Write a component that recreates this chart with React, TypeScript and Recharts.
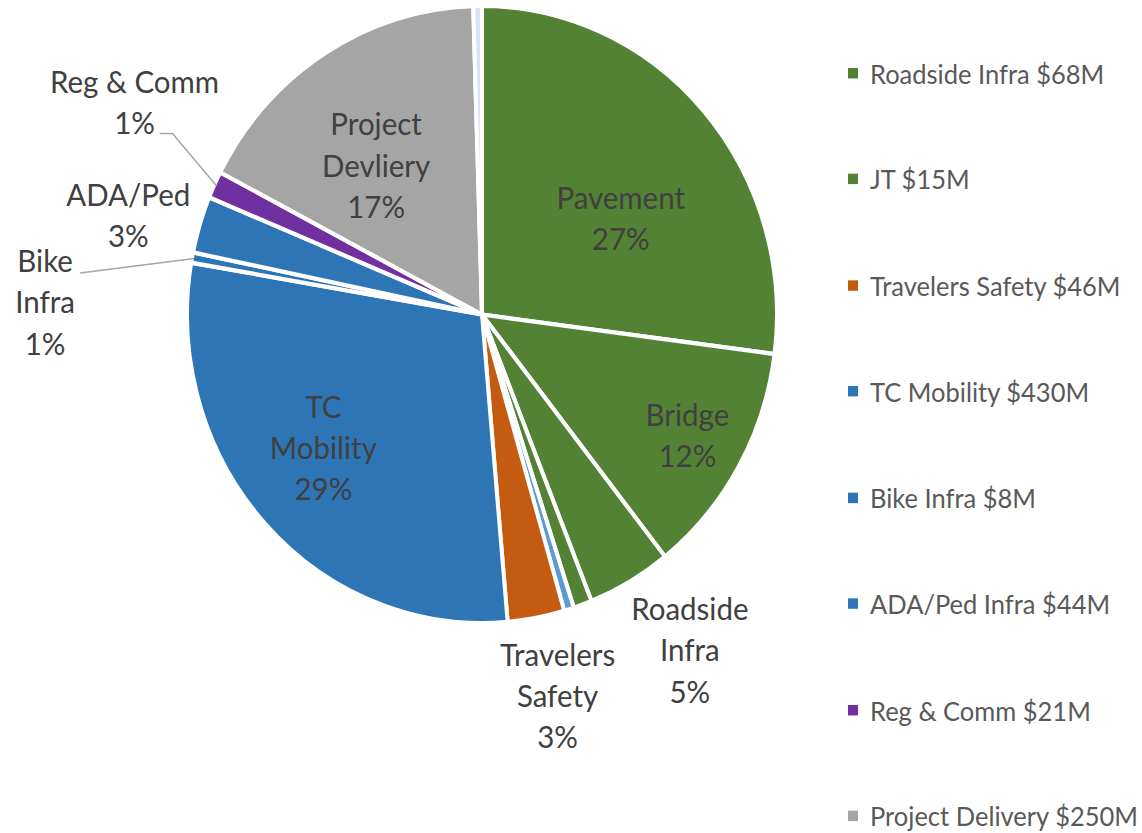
import React from "react";
import { PieChart, Pie, Cell, Legend } from "recharts";

// ---- data ----
const categories = [
  "Pavement",
  "Bridge",
  "Roadside Infra",
  "JT",
  "Unlabeled A",
  "Travelers Safety",
  "TC Mobility",
  "Bike Infra",
  "ADA/Ped Infra",
  "Reg & Comm",
  "Project Delivery",
  "Unlabeled B",
];
const valuesM = [400, 182, 68, 15, 8, 46, 430, 8, 44, 21, 250, 7];
const sliceLabels = [
  "Pavement",
  "Bridge",
  "Roadside\nInfra",
  "",
  "",
  "Travelers\nSafety",
  "TC\nMobility",
  "Bike\nInfra",
  "ADA/Ped",
  "Reg & Comm",
  "Project\nDevliery",
  "",
];
const legendNames = [
  "",
  "",
  "Roadside Infra",
  "JT",
  "",
  "Travelers Safety",
  "TC Mobility",
  "Bike Infra",
  "ADA/Ped Infra",
  "Reg & Comm",
  "Project Delivery",
  "",
];

// ---- styles ----
const sliceColors = [
  "#548235",
  "#548235",
  "#548235",
  "#548235",
  "#5B9BD5",
  "#C55A11",
  "#2E75B6",
  "#2E75B6",
  "#2E75B6",
  "#7030A0",
  "#A5A5A5",
  "#DAE3F3",
];

type Leader = { sx: number; sy: number; elbow: number };
type Placement = { r: number; shift: number; leader?: Leader } | null;
const labelPlacement: Placement[] = [
  { r: 166, shift: 8 },
  { r: 236, shift: 0 },
  { r: 383, shift: -2.8 },
  null,
  null,
  { r: 373, shift: -1.1 },
  { r: 204, shift: 3.7 },
  { r: 437, shift: -9.2, leader: { sx: 35, sy: -28.7, elbow: 0 } },
  { r: 366, shift: -2.1 },
  { r: 402, shift: 5.3, leader: { sx: 25, sy: 29, elbow: 13 } },
  { r: 177, shift: -4.6 },
  null,
];

const SCALE_Y = 1.046;
const W = 1142;
const H = 797;
const FONT = "Lato, 'Open Sans', sans-serif";
const LABEL_SIZE = 29.5;
const LEGEND_SIZE = 25.5;
const LINE_H = 39.5;
const TEXT_NUDGE = -1.8;

const data = categories.map((name, i) => ({ name, value: valuesM[i] }));

const RAD = Math.PI / 180;

const renderLabel = (props: any) => {
  const { cx, cy, midAngle, outerRadius, percent, index } = props;
  const place = labelPlacement[index];
  if (!place) return null;
  const midCw = 90 - midAngle; // clockwise from 12 o'clock
  const th = (midCw + place.shift) * RAD;
  const x = cx + place.r * Math.sin(th);
  const y = cy - place.r * Math.cos(th);
  const lines = [...sliceLabels[index].split("\n"), `${Math.round(percent * 100)}%`];
  const n = lines.length;
  let leaderEl = null;
  if (place.leader) {
    const ex = cx + outerRadius * Math.sin(midCw * RAD) + 2;
    const ey = cy - outerRadius * Math.cos(midCw * RAD) + 1;
    const sx = x + place.leader.sx;
    const sy = y + place.leader.sy;
    const pts = place.leader.elbow
      ? `M${sx},${sy} L${sx + place.leader.elbow},${sy} L${ex},${ey}`
      : `M${sx},${sy} L${ex},${ey}`;
    leaderEl = <path d={pts} stroke="#A6A6A6" strokeWidth={1.5} fill="none" />;
  }
  return (
    <g key={`lbl-${index}`}>
      {leaderEl}
      {lines.map((t, k) => (
        <text
          key={k}
          x={x}
          y={y + TEXT_NUDGE + (k - (n - 1) / 2) * LINE_H}
          textAnchor="middle"
          dominantBaseline="central"
          fontFamily={FONT}
          fontSize={LABEL_SIZE}
          fill="#404040"
        >
          {t}
        </text>
      ))}
    </g>
  );
};

const legendIdx = categories.map((_, i) => i).filter((i) => legendNames[i] !== "");

const renderLegend = () => (
  <div style={{ position: "relative", width: 302, height: H, fontFamily: FONT }}>
    {legendIdx.map((i, k) => (
      <div
        key={i}
        style={{
          position: "absolute",
          left: 8,
          top: 69.9 + k * 101.5 - 15,
          height: 30,
          display: "flex",
          alignItems: "center",
          whiteSpace: "nowrap",
        }}
      >
        <span
          style={{
            display: "inline-block",
            width: 10,
            height: 10,
            background: sliceColors[i],
            marginRight: 12,
          }}
        />
        <span style={{ fontSize: LEGEND_SIZE, color: "#595959" }}>
          {`${legendNames[i]} $${valuesM[i]}M`}
        </span>
      </div>
    ))}
  </div>
);

export default function App() {
  return (
    <div
      style={{
        position: "absolute",
        left: 0,
        top: 0,
        width: W,
        height: H,
        transform: `scaleY(${SCALE_Y})`,
        transformOrigin: "0 0",
        background: "#ffffff",
        fontFamily: FONT,
      }}
    >
      <PieChart width={W} height={H} margin={{ top: 0, right: 0, bottom: 0, left: 0 }}>
        <Pie
          data={data}
          dataKey="value"
          nameKey="name"
          cx={482}
          cy={300.7}
          outerRadius={295}
          startAngle={90}
          endAngle={-270}
          stroke="#ffffff"
          strokeWidth={4}
          label={renderLabel}
          labelLine={false}
          isAnimationActive={false}
        >
          {data.map((d, i) => (
            <Cell key={d.name} fill={sliceColors[i]} />
          ))}
        </Pie>
        <Legend
          layout="vertical"
          align="right"
          verticalAlign="top"
          content={renderLegend}
          wrapperStyle={{ position: "absolute", left: 840, top: 0, width: 302, height: H }}
        />
      </PieChart>
    </div>
  );
}
